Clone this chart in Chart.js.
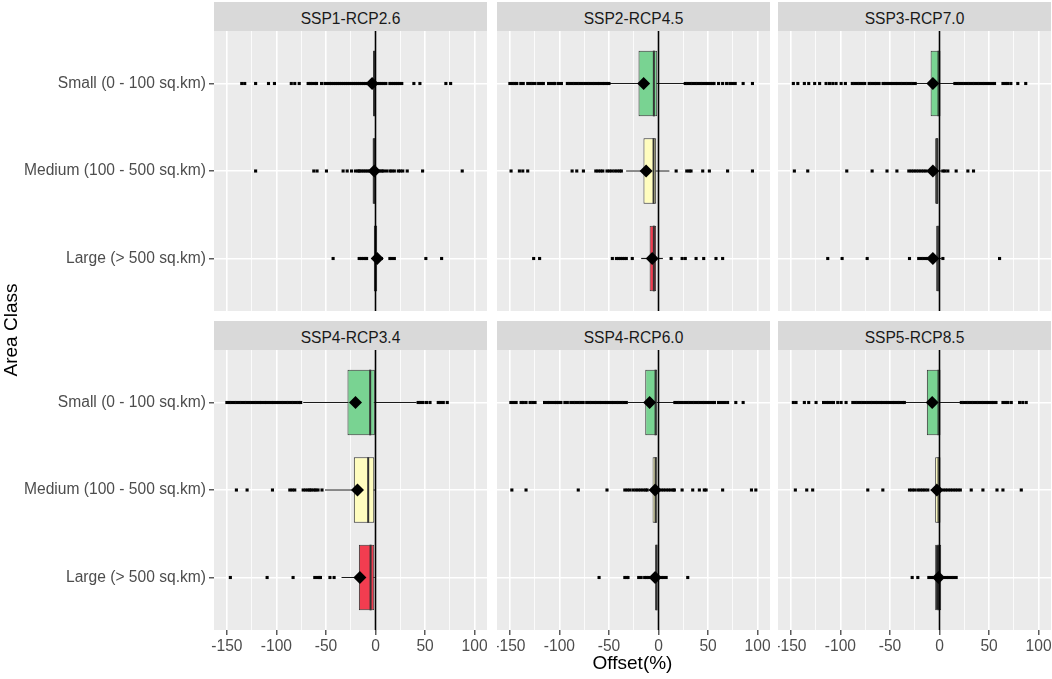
<!DOCTYPE html>
<html><head><meta charset="utf-8">
<script src="https://cdn.jsdelivr.net/npm/chart.js@4.4.1/dist/chart.umd.min.js"></script>
<style>
html,body{margin:0;padding:0;background:#fff;}
#wrap{position:relative;width:1052px;height:679px;overflow:hidden;font-family:"Liberation Sans",Arial,sans-serif;}
canvas{position:absolute;}
.strip{position:absolute;background:#D9D9D9;color:#1A1A1A;font-size:15.6px;text-align:center;height:29px;line-height:33px;overflow:hidden;white-space:nowrap;}
.title{position:absolute;color:#000;font-size:19px;text-align:center;white-space:nowrap;}
</style></head><body><div id="wrap"></div>
<script>
// ---------------- data ----------------
const panelNames = ['SSP1-RCP2.6', 'SSP2-RCP4.5', 'SSP3-RCP7.0', 'SSP4-RCP3.4', 'SSP4-RCP6.0', 'SSP5-RCP8.5'];
const areaClasses = ['Small (0 - 100 sq.km)', 'Medium (100 - 500 sq.km)', 'Large (> 500 sq.km)'];
const majorTicks = [-150, -100, -50, 0, 50, 100];
const minorTicks = [-125, -75, -25, 25, 75];

// per panel: [Small, Medium, Large]
const boxQ1 = [
  [-2.5, -3, -1.7],
  [-20.2, -15.2, -9],
  [-9, -4.4, -3.4],
  [-28.3, -21.9, -16.8],
  [-13.4, -6, -3.4],
  [-12.8, -4.4, -4.4]
];
const boxMedian = [
  [-1, -1.2, 0],
  [-4.7, -5, -4.7],
  [-1, -2.5, -1],
  [-5.4, -7.4, -5],
  [-3, -3, -2],
  [-1, -1, -1]
];
const boxQ3 = [
  [0.3, 0, 1.7],
  [-1.3, -2.4, -2.4],
  [1, -1, 0],
  [-0.7, -1.3, -1.3],
  [-1.3, -1.3, -1.3],
  [1, 1, 1.7]
];
const whiskerLow = [
  [-4, -5, -4],
  [-49.5, -32.7, -17.5],
  [-23.6, -12, -9],
  [-73, -51, -34.3],
  [-31, -10, -4.5],
  [-35.4, -9, -5]
];
const whiskerHigh = [
  [1.5, 2, 4],
  [26, 11, 4.4],
  [15, 3, 2],
  [41.4, 0.5, 0],
  [16, 2, 1],
  [22, 2.5, 3]
];
const meanValue = [
  [-3.4, -1.3, 1.7],
  [-15, -12.5, -6.4],
  [-6.7, -6.7, -6.7],
  [-20.2, -18.2, -15.8],
  [-9, -3.4, -3.4],
  [-7.4, -2.7, -1]
];

const outliersSSP1_RCP26 = [
  [-135, -132, -121, -108, -102, -85, -81.5, -77, -68, -66, -63.5, -61, -59.5, -54.5, -51, -49, -46.5, -44.5, -42, -40, -38, -36, -34, -32, -30, -28, -26, -24, -22, -20, -18, -16, -14, -12, -10, -8, -6, 2.5, 4.5, 6.5, 8.5, 10.5, 14.5, 16.5, 18.5, 20.5, 22.5, 24.5, 26.5, 38.7, 44.8, 71, 75.8],
  [-121, -62.3, -59, -49.5, -32.7, -28.6, -24.2, -20.2, -17.5, -16.5, -14.5, -12.5, -10.5, -8.5, -6.5, 2.5, 4.5, 6.5, 8, 11.1, 14.5, 16.5, 19, 23, 25, 27.5, 32, 47.5, 87.5],
  [-42.8, -16.5, -14.5, -12.5, -10.5, -9, 6, 14.5, 16.5, 19, 50.8, 66.7]
];
const outliersSSP2_RCP45 = [
  [-150, -147.5, -145, -143, -139, -136.5, -132, -129.5, -127, -124.6, -121, -118.5, -116.2, -111, -108.5, -106, -104.5, -101, -98, -92, -89.5, -87, -84.5, -82, -79.5, -77, -74.5, -72, -69.5, -67, -64.5, -62, -59.5, -57, -54.5, -52, -50, 27, 29.5, 32, 34.5, 37, 39.5, 42, 44.5, 47, 49.5, 52, 54.5, 56, 60.6, 64.7, 68.7, 72, 74.7, 77.4, 85.4, 94.8],
  [-148.8, -140.4, -137, -132, -87.2, -82.5, -75.8, -63.3, -61, -58.5, -56.2, -52, -49.5, -47, -44.2, -41.7, -39.2, -37.5, 17.8, 28.5, 31, 32.8, 44.6, 51.3, 69.7, 94.8],
  [-126, -120, -46.6, -42.5, -40.5, -38.5, -36.5, -34.5, -32.5, -26.5, 12.7, 23.8, 27, 37.9, 45.6, 58, 64.7]
];
const outliersSSP3_RCP70 = [
  [-147.5, -143, -136.4, -132, -126, -121, -114.5, -111, -107.7, -104.4, -99.3, -95, -88, -85.5, -83, -80.5, -78, -75.5, -71, -68.5, -66, -63.5, -61, -57, -54.5, -52, -49.5, -47, -44.5, -42, -39.5, -37, -34.5, -32, -29.5, -27, -24.5, 15.5, 18, 20.5, 23, 25.5, 28, 30.5, 33, 35.5, 38, 40.5, 43, 45.5, 48, 50.5, 53, 55.5, 64, 66.5, 69, 72, 79, 87],
  [-146.5, -133, -93.6, -68, -53, -43, -31, -28.5, -26, -23.6, -21, -18.5, -16, -13.5, 3.4, 5.5, 8.4, 16.8, 28.6, 34.3],
  [-112.8, -98.3, -73, -30.3, -21, -18.5, -16, -13.5, -11.8, 3.4, 60.6]
];
const outliersSSP4_RCP34 = [
  [-150, -147.5, -145, -142.5, -140, -137.5, -135, -132.5, -130, -127.5, -125, -122.5, -120, -117.5, -115, -112.5, -110, -107.5, -105, -102.5, -100, -97.5, -95, -92.5, -90, -87.5, -85, -82.5, -80, -77.5, -75.5, 43, 45.5, 48, 51.5, 55, 63.3, 65.7, 68.4, 72.4],
  [-140.4, -129.6, -104, -86.5, -84, -81.5, -73, -70.5, -68, -66.3, -64.6, -62, -60.3, -58, -54],
  [-146.5, -109.4, -83.2, -61.3, -59, -56.9, -55.6, -46, -41.8]
];
const outliersSSP4_RCP60 = [
  [-149, -146.4, -143.7, -138.7, -136.4, -133.7, -129.6, -127, -124.6, -115, -112.5, -110, -107.5, -105, -103, -101, -98.5, -94.5, -92, -88.5, -86, -83.5, -81, -78.5, -76, -72.5, -70, -67.5, -65, -62.5, -60, -57.5, -55, -52.5, -50, -47.5, -45, -42.5, -40, -37.5, -35, -32.5, 16.5, 19, 21.5, 24, 26.5, 29, 31.5, 34, 36.5, 39, 41.5, 44, 46.5, 49, 51.5, 54, 56.5, 60.6, 63.5, 66.5, 69.7, 78, 85.4],
  [-148, -133.7, -81, -52, -34, -31.5, -29, -25.8, -23, -20.5, -18, -15.5, -13, -11.5, 2.5, 5, 7.5, 10, 12.5, 15, 16, 23.8, 34.5, 41.2, 46.2, 48, 64.7, 93.8, 98.2],
  [-60, -34, -32, -30.8, -20, -17.5, -14, -12.4, -10, -7.5, -5, 2.7, 5, 7.7, 29.5]
];
const outliersSSP5_RCP85 = [
  [-147.5, -144.8, -136.4, -132, -124.6, -117, -114.5, -112, -109.5, -107, -102.7, -99.3, -94.3, -87.5, -85, -82.5, -80, -77.5, -75, -72.5, -70, -67.5, -65, -62.5, -60, -57.5, -55, -52.5, -50, -47.5, -45, -42.5, -40, -37.5, -35.5, 22, 24.5, 27, 29.5, 32, 34.5, 37, 39.5, 42, 44.5, 47, 49.5, 52, 54.5, 57, 64, 66.5, 69, 72.4, 80.8, 84, 87.5],
  [-145.5, -134, -128, -72.4, -57.2, -30.3, -27.8, -25.3, -22, -19.5, -17, -14.5, -11.8, 3.4, 6, 8.5, 11, 13.5, 16, 18.5, 21, 32, 43.8, 58, 64, 82.5],
  [-27.6, -21.9, -10.8, -8.5, -6, 4.5, 7, 9.5, 12, 14.5, 16.8]
];
const outlierValues = [outliersSSP1_RCP26, outliersSSP2_RCP45, outliersSSP3_RCP70, outliersSSP4_RCP34, outliersSSP4_RCP60, outliersSSP5_RCP85];

// ---------------- styles ----------------
const GREEN = '#79D392', YELLOW = '#FFFDBF', RED = '#F23D50', DARK = '#1A1A1A';
const boxFillStyle = [
  [DARK, DARK, DARK],
  [GREEN, YELLOW, RED],
  [GREEN, YELLOW, DARK],
  [GREEN, YELLOW, RED],
  [GREEN, YELLOW, DARK],
  [GREEN, YELLOW, DARK]
];
const X_MIN = -163, X_MAX = 112.5, Y_MIN = 0.4, Y_MAX = 3.6;
const MEDIAN_HALF = 1;
const colLeft = [214, 497, 778], rowTop = [31, 350];
const panelW = 273, panelH = 280, stripH = 29, xAxisH = 32;
const FONT_SIZE = 15.6;

Chart.defaults.font.family = '"Liberation Sans", Arial, sans-serif';
Chart.defaults.font.size = FONT_SIZE;
Chart.defaults.color = '#4D4D4D';

const panelBg = {
  id: 'panelBg',
  beforeDraw(chart) {
    const a = chart.chartArea, ctx = chart.ctx;
    ctx.save(); ctx.fillStyle = '#EBEBEB';
    ctx.fillRect(a.left, a.top, a.right - a.left, a.bottom - a.top);
    ctx.restore();
  }
};

const wrap = document.getElementById('wrap');
const cats = [1, 2, 3];

panelNames.forEach((name, p) => {
  const row = Math.floor(p / 3), col = p % 3;
  const strip = document.createElement('div');
  strip.className = 'strip';
  strip.textContent = name;
  strip.style.left = colLeft[col] + 'px';
  strip.style.top = (rowTop[row] - stripH) + 'px';
  strip.style.width = panelW + 'px';
  wrap.appendChild(strip);

  const axisW = col === 0 ? colLeft[0] : 0;
  const axisH = row === 1 ? xAxisH : 0;
  const w = panelW + axisW, h = panelH + axisH;
  const cv = document.createElement('canvas');
  cv.width = w; cv.height = h;
  cv.style.width = w + 'px'; cv.style.height = h + 'px';
  cv.style.left = (col === 0 ? 0 : colLeft[col]) + 'px';
  cv.style.top = rowTop[row] + 'px';
  wrap.appendChild(cv);

  const outPts = [];
  outlierValues[p].forEach((arr, i) => arr.forEach(v => outPts.push({x: v, y: cats[i]})));

  new Chart(cv, {
    type: 'bar',
    data: {
      datasets: [
        { type: 'scatter', data: meanValue[p].map((v, i) => ({x: v, y: cats[i]})),
          pointStyle: 'rectRot', pointRadius: 6.5, pointBackgroundColor: '#000', pointBorderWidth: 0, order: 1 },
        { type: 'scatter', showLine: true, data: [{x: 0, y: Y_MIN}, {x: 0, y: Y_MAX}],
          borderColor: '#000', borderWidth: 1.6, pointRadius: 0, order: 2 },
        { type: 'bar', indexAxis: 'y', grouped: false, barPercentage: 0.75, categoryPercentage: 1,
          data: boxMedian[p].map((m, i) => ({x: [m - MEDIAN_HALF, m + MEDIAN_HALF], y: cats[i]})),
          backgroundColor: '#333333', borderWidth: 0, order: 3 },
        { type: 'bar', indexAxis: 'y', grouped: false, barPercentage: 0.75, categoryPercentage: 1,
          data: boxQ1[p].map((q, i) => ({x: [q, boxQ3[p][i]], y: cats[i]})),
          backgroundColor: boxFillStyle[p], borderColor: '#333333', borderWidth: 1, borderSkipped: false, order: 4 },
        { type: 'scatter', data: outPts, pointStyle: 'rect', pointRadius: 2.2,
          pointBackgroundColor: '#000', pointBorderWidth: 0, order: 5 },
        { type: 'bar', indexAxis: 'y', grouped: false, maxBarThickness: 1.2,
          data: whiskerLow[p].map((lo, i) => ({x: [lo, whiskerHigh[p][i]], y: cats[i]})),
          backgroundColor: '#1A1A1A', borderWidth: 0, order: 6 }
      ]
    },
    options: {
      indexAxis: 'y',
      responsive: false,
      animation: false,
      events: [],
      layout: { padding: 0, autoPadding: false },
      plugins: { legend: { display: false }, tooltip: { enabled: false }, title: { display: false } },
      scales: {
        x: {
          type: 'linear', min: X_MIN, max: X_MAX, bounds: 'data', offset: false,
          afterBuildTicks: s => { s.ticks = majorTicks.concat(minorTicks).sort((a, b) => a - b).map(v => ({value: v})); },
          afterFit: s => { s.height = axisH; s.paddingLeft = 0; s.paddingRight = 0; },
          border: { display: false },
          grid: {
            offset: false,
            color: '#FFFFFF',
            lineWidth: c => majorTicks.includes(c.tick.value) ? 1.6 : 0.8,
            drawTicks: row === 1, tickLength: 5, tickWidth: 1.2,
            tickColor: c => majorTicks.includes(c.tick.value) ? '#333333' : 'rgba(0,0,0,0)'
          },
          ticks: {
            display: row === 1, autoSkip: false, maxRotation: 0, minRotation: 0, padding: 2,
            color: '#4D4D4D', font: { size: FONT_SIZE },
            callback: v => majorTicks.includes(v) ? String(v) : ''
          }
        },
        y: {
          type: 'linear', min: Y_MIN, max: Y_MAX, reverse: true, bounds: 'data', offset: false,
          afterBuildTicks: s => { s.ticks = cats.map(v => ({value: v})); },
          afterFit: s => { s.width = axisW; s.paddingTop = 0; s.paddingBottom = 0; },
          border: { display: false },
          grid: {
            offset: false, color: '#FFFFFF', lineWidth: 1.6,
            drawTicks: col === 0, tickLength: 5, tickWidth: 1.2, tickColor: '#333333'
          },
          ticks: {
            display: col === 0, autoSkip: false, padding: 3, color: '#4D4D4D', font: { size: FONT_SIZE },
            callback: v => areaClasses[v - 1] || ''
          }
        }
      }
    },
    plugins: [panelBg]
  });
});

const xt = document.createElement('div');
xt.className = 'title';
xt.textContent = 'Offset(%)';
xt.style.left = colLeft[0] + 'px';
xt.style.width = (colLeft[2] + panelW - colLeft[0]) + 'px';
xt.style.top = '651px';
xt.style.lineHeight = '24px';
wrap.appendChild(xt);

const yt = document.createElement('div');
yt.className = 'title';
yt.textContent = 'Area Class';
yt.style.width = '300px';
yt.style.height = '24px';
yt.style.lineHeight = '24px';
yt.style.left = (11 - 150) + 'px';
yt.style.top = (330 - 12) + 'px';
yt.style.transform = 'rotate(-90deg)';
wrap.appendChild(yt);
</script>
</body></html>
